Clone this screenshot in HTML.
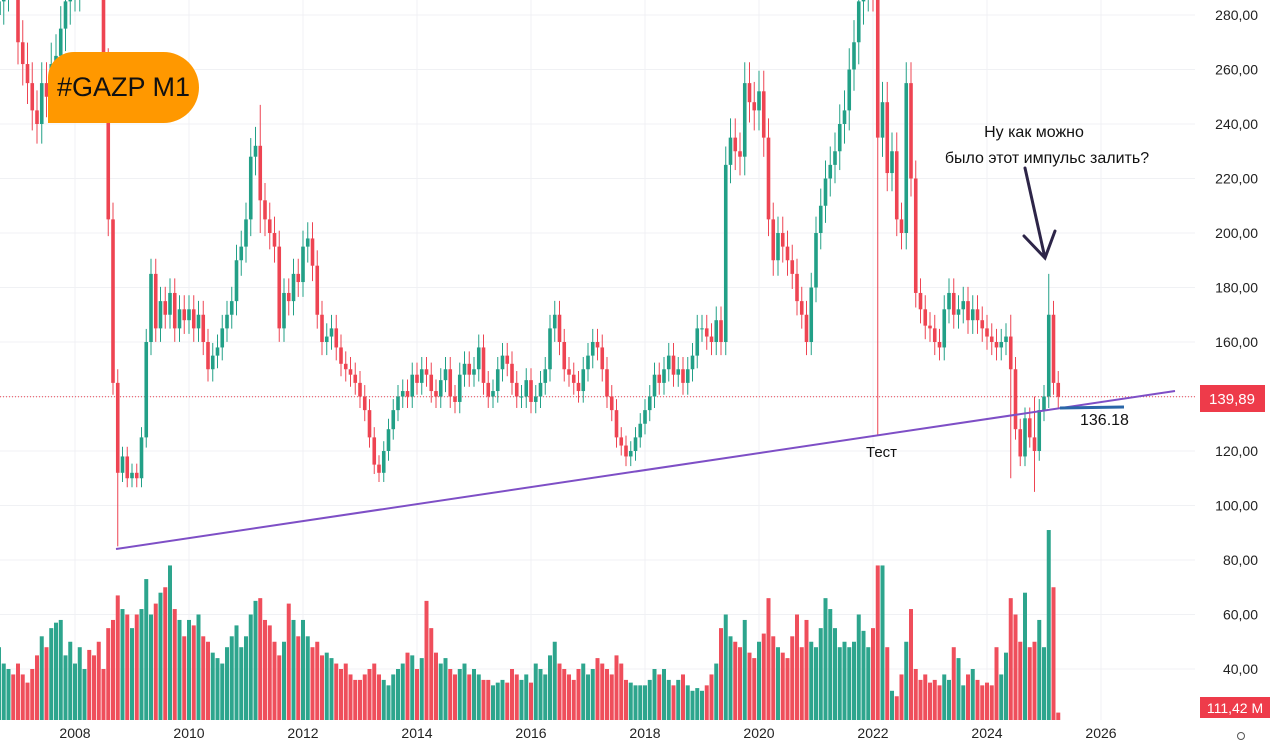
<!DOCTYPE html>
<html><head><meta charset="utf-8">
<style>
body{margin:0;background:#fff;font-family:"Liberation Sans","DejaVu Sans",sans-serif;}
#wrap{position:relative;width:1280px;height:753px;overflow:hidden;background:#fff;}
svg{position:absolute;left:0;top:0;}
.badge{position:absolute;left:48px;top:52px;width:151px;height:71px;background:#ff9800;border-radius:26px 36px 36px 0;display:flex;align-items:center;justify-content:center;font-size:27px;color:#111;white-space:nowrap;}
</style></head><body>
<div id="wrap">
<svg id="chart" width="1280" height="753"></svg>
<div class="badge">#GAZP M1</div>
</div>
<script>
// monthly closes, Sep 2006 .. Apr 2025
const closes2006=[285,290,300,295];
const closesYears=[
[270,262,255,245,240,255,250,262,265,275,285,290],
[290,300,310,305,300,295,260,205,145,112,118,110],
[112,110,125,160,185,165,175,170,178,165,172,168],
[172,165,170,160,150,155,158,165,170,175,190,195],
[205,228,232,212,205,200,195,165,178,175,185,182],
[195,198,188,170,160,162,165,158,152,150,148,145],
[140,135,125,115,112,120,128,135,140,142,140,148],
[145,150,148,142,140,146,150,140,138,148,152,148],
[150,158,145,140,142,150,155,152,145,140,140,146],
[138,140,145,150,165,170,160,150,148,145,142,150],
[155,160,158,150,140,135,125,122,118,120,125,130],
[135,140,148,145,150,155,148,150,145,150,155,165],
[165,162,160,168,160,225,235,230,228,255,248,245],
[252,235,205,190,200,195,190,185,175,170,160,180],
[200,210,220,225,230,240,245,260,270,285,290,300],
[290,235,248,222,230,205,200,255,220,178,172,166],
[165,160,158,172,178,170,172,175,168,172,168,165],
[162,160,158,160,162,150,128,118,132,125,120,135]
];
const closes2025=[140,170,145,139.89];
const volumes=[48,42,40,38,
42,38,35,40,45,52,48,55,57,58,45,50,
42,48,40,47,45,50,40,55,58,67,62,60,
55,60,62,73,60,64,68,70,78,62,58,52,
58,56,60,52,50,46,44,42,48,52,56,48,
52,60,65,66,58,56,50,45,50,64,58,52,
58,52,48,50,45,46,44,42,40,42,38,36,
36,38,40,42,38,36,34,38,40,42,46,45,
40,44,65,55,46,42,44,40,38,40,42,38,
40,38,36,36,34,35,36,35,40,38,36,38,
35,42,40,38,45,50,42,40,38,36,40,42,
38,40,44,42,40,38,45,42,36,35,34,34,
34,36,40,38,40,36,34,36,38,34,32,33,
32,34,38,42,55,60,52,50,48,58,46,44,
50,53,66,52,48,46,44,52,60,48,58,50,
48,55,66,62,55,48,50,48,50,60,54,48,
55,78,78,48,32,30,38,50,62,40,36,38,
35,36,34,38,36,48,44,34,38,40,36,34,
35,34,48,38,46,66,60,50,68,48,50,58,
48,91,70,24];
// notable extremes: [monthIndex from Jan 2006, high, low]
const extremes=[[33,150,85],[63,247,200],[193,300,126],[221,170,110],[226,140,105],[229,185,140]];
const priceTicks=[280,260,240,220,200,180,160,140,120,100,80,60,40];
const yearTicks=[2008,2010,2012,2014,2016,2018,2020,2022,2024,2026];
const firstMonth=8;

const closes=[].concat(closes2006,...closesYears,closes2025);
const NS='http://www.w3.org/2000/svg';
const svg=document.getElementById('chart');
const X=m=>-39+4.75*m;
const Y=v=>15+(280-v)*2.725;
const XY=yr=>X((yr-2006)*12);
function mk(tag,attrs,parent){const e=document.createElementNS(NS,tag);for(const k in attrs)e.setAttribute(k,attrs[k]);(parent||svg).appendChild(e);return e;}

priceTicks.forEach(v=>{
  const l=mk('line',{x1:0,x2:1195,y1:Y(v),y2:Y(v),stroke:'#f0f1f4','stroke-width':1});
  
  
  const t=mk('text',{x:1258,y:Y(v)+5,'text-anchor':'end','font-size':14,fill:'#222'});
  t.textContent=v.toFixed(2).replace('.',',');
  
  
});
yearTicks.forEach(yr=>{
  const l=mk('line',{x1:XY(yr),x2:XY(yr),y1:0,y2:720,stroke:'#f0f1f4','stroke-width':1});
  
  
  const t=mk('text',{x:XY(yr),y:738,'text-anchor':'middle','font-size':14,fill:'#222'});
  t.textContent=yr;
  
  
});

const G='#22a087',R='#ee4452';
let prev=280;
const dirs=[];
closes.forEach((c,i)=>{dirs.push(c>=prev);prev=c;});
volumes.forEach((v,i)=>{
  const m=firstMonth+i;
  const r=mk('rect',{x:X(m)-2,y:Y(v),width:4,height:Math.max(0,720-Y(v)),fill:dirs[i]?G:R,opacity:0.95});
  
  
});

const cur=closes[closes.length-1];
mk('line',{x1:0,x2:1195,y1:Y(cur),y2:Y(cur),stroke:'#ee4452','stroke-width':1,'stroke-dasharray':'1 2'});

prev=280;
closes.forEach((c,i)=>{
  const m=firstMonth+i,o=prev;prev=c;
  let hi=Math.max(o,c)*1.03,lo=Math.min(o,c)*0.97;
  extremes.forEach(e=>{if(e[0]===m){hi=Math.max(hi,e[1]);lo=Math.min(lo,e[2]);}});
  const col=c>=o?G:R,x=X(m);
  const w=mk('line',{x1:x,x2:x,y1:Y(hi),y2:Y(lo),stroke:col,'stroke-width':1});
  
  
  const b=mk('rect',{x:x-1.8,y:Y(Math.max(o,c)),width:3.6,height:Math.max(1,Math.abs(Y(o)-Y(c))),fill:col});
  
  
});

const tl=mk('line',{x1:116,y1:549,x2:1175,y2:391,stroke:'#7e4fc6','stroke-width':2});


const bl=mk('line',{x1:1060,y1:408,x2:1124,y2:407,stroke:'#2a66a8','stroke-width':3});


const lv=mk('text',{x:1080,y:425,'font-size':16,fill:'#111'});lv.textContent='136.18';


const te=mk('text',{x:866,y:457,'font-size':15,fill:'#111'});te.textContent='Тест';


const a1=mk('text',{x:1034,y:137,'text-anchor':'middle','font-size':16,fill:'#111'});a1.textContent='Ну как можно';


const a2=mk('text',{x:1047,y:163,'text-anchor':'middle','font-size':16,fill:'#111'});a2.textContent='было этот импульс залить?';


const ar=mk('path',{d:'M1025 168 L1045 258 M1024 236 L1045 258 L1055 231',stroke:'#2d2548','stroke-width':3,fill:'none','stroke-linecap':'round'});



const pb=mk('rect',{x:1200,y:385,width:65,height:27,fill:'#ee3b4a'});


const pt=mk('text',{x:1232,y:404,'text-anchor':'middle','font-size':15,fill:'#fff'});pt.textContent=cur.toFixed(2).replace('.',',');


const vb=mk('rect',{x:1200,y:697,width:70,height:21,fill:'#ee3b4a'});


const vt=mk('text',{x:1235,y:713,'text-anchor':'middle','font-size':14,fill:'#fff'});vt.textContent='111,42 M';


const ic=mk('circle',{cx:1241,cy:736,r:3.5,stroke:'#555',fill:'none','stroke-width':1});


</script>
</body></html>
